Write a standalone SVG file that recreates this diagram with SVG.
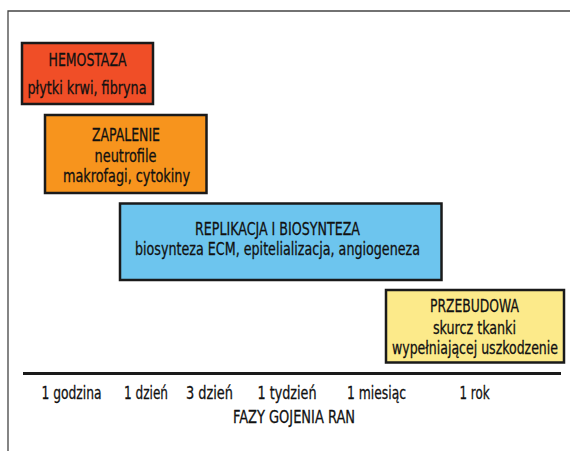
<svg xmlns="http://www.w3.org/2000/svg" width="570" height="451" viewBox="0 0 570 451">
<style>
.box{stroke:#1a1a1a;stroke-width:2.5}
text{font-family:"DejaVu Sans Condensed","DejaVu Sans","Liberation Sans",sans-serif;font-stretch:condensed;font-size:18.5px;fill:#111;stroke:#111;stroke-width:0.3;text-anchor:middle}
.frame{fill:none;stroke:#444;stroke-width:1.3}
</style>
<path class="frame" d="M8,451 V11 H570"/>
<g id="hemostaza">
<rect class="box" x="22" y="43" width="131" height="61" fill="#F04E27"/>
<text x="87.5" y="66" textLength="78" lengthAdjust="spacingAndGlyphs">HEMOSTAZA</text>
<text x="87" y="93.5" textLength="119" lengthAdjust="spacingAndGlyphs">płytki krwi, fibryna</text>
</g>
<g id="zapalenie">
<rect class="box" x="45" y="115" width="161.5" height="78" fill="#F7941D"/>
<text x="126" y="140.5" textLength="68" lengthAdjust="spacingAndGlyphs">ZAPALENIE</text>
<text x="125.5" y="161.5" textLength="62" lengthAdjust="spacingAndGlyphs">neutrofile</text>
<text x="126.5" y="181.5" textLength="127" lengthAdjust="spacingAndGlyphs">makrofagi, cytokiny</text>
</g>
<g id="replikacja">
<rect class="box" x="120" y="203.5" width="321.5" height="76.5" fill="#6DC5EE"/>
<text x="277.5" y="234.5" textLength="165" lengthAdjust="spacingAndGlyphs">REPLIKACJA I BIOSYNTEZA</text>
<text x="277.5" y="255" textLength="285" lengthAdjust="spacingAndGlyphs">biosynteza ECM, epitelializacja, angiogeneza</text>
</g>
<g id="przebudowa">
<rect class="box" x="386" y="290" width="178" height="72.5" fill="#FCEA8A"/>
<text x="474.5" y="312" textLength="89" lengthAdjust="spacingAndGlyphs">PRZEBUDOWA</text>
<text x="474.5" y="333.5" textLength="83" lengthAdjust="spacingAndGlyphs">skurcz tkanki</text>
<text x="475" y="353.5" textLength="166" lengthAdjust="spacingAndGlyphs">wypełniającej uszkodzenie</text>
</g>
<g id="axis">
<line x1="23" y1="373.5" x2="561" y2="373.5" stroke="#1a1a1a" stroke-width="3"/>
<text x="71.5" y="398.5" textLength="60" lengthAdjust="spacingAndGlyphs">1 godzina</text>
<text x="146" y="398.5" textLength="44" lengthAdjust="spacingAndGlyphs">1 dzień</text>
<text x="209.5" y="398.5" textLength="47" lengthAdjust="spacingAndGlyphs">3 dzień</text>
<text x="287" y="398.5" textLength="59" lengthAdjust="spacingAndGlyphs">1 tydzień</text>
<text x="376.5" y="398.5" textLength="59" lengthAdjust="spacingAndGlyphs">1 miesiąc</text>
<text x="474.5" y="398.5" textLength="30" lengthAdjust="spacingAndGlyphs">1 rok</text>
<text x="294" y="422.5" textLength="122" lengthAdjust="spacingAndGlyphs">FAZY GOJENIA RAN</text>
</g>
</svg>
